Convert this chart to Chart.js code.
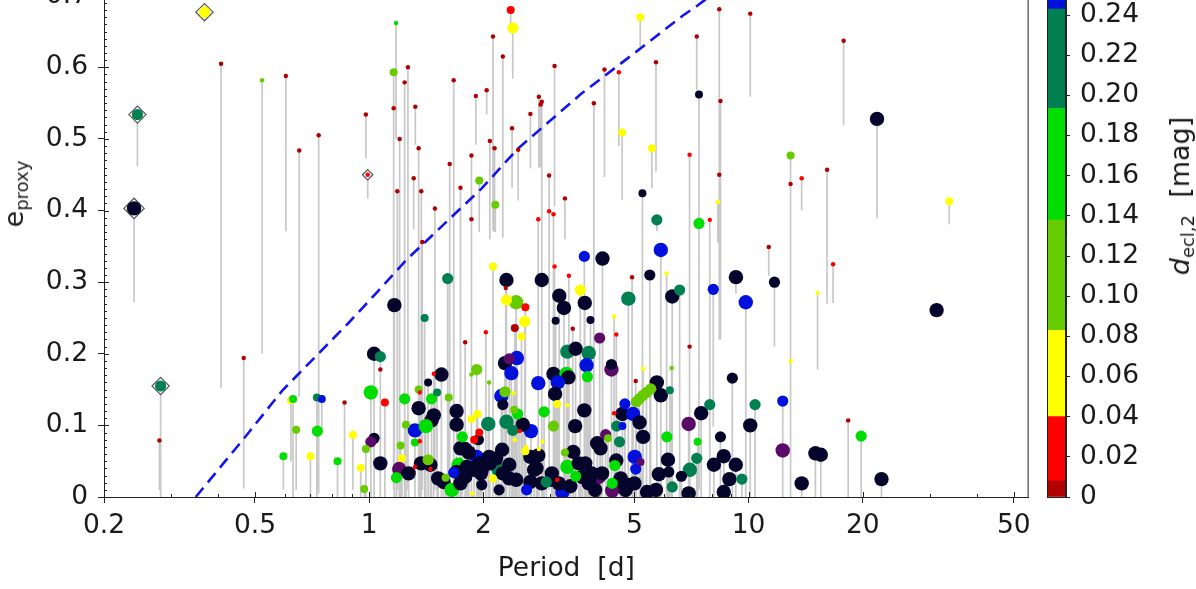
<!DOCTYPE html>
<html>
<head>
<meta charset="utf-8">
<script src="https://cdn.jsdelivr.net/npm/chart.js@4.4.1/dist/chart.umd.min.js"></script>
<style>
  html, body { margin: 0; padding: 0; background: #fff; overflow: hidden; }
  #wrap { position: relative; width: 1196px; height: 589px; overflow: hidden; background: #fff; }
  #main { position: absolute; left: 0; top: -30px; }
  #cbar { position: absolute; left: 1040px; top: -30px; }
  .lab { position: absolute; font-family: 'DejaVu Sans', sans-serif; font-size: 27px; color: #1a1a1a;
         white-space: nowrap; transform: translate(-50%, -50%) rotate(-90deg); }
  .lab sub { font-size: 18px; vertical-align: -5px; }
</style>
</head>
<body>
<div id="wrap">
  <canvas id="main" width="1040" height="619"></canvas>
  <canvas id="cbar" width="156" height="619"></canvas>
  <div class="lab" style="left:15px; top:194px;">e<sub>proxy</sub></div>
  <div class="lab" style="left:1181px; top:196px;"><i>d</i><sub>ecl,2</sub>&nbsp; [mag]</div>
</div>
<script>
// ---- data --------------------------------------------------------------
// orbital period [d]
const period = [
  0.368,0.245,0.240,0.282,0.991,0.280,0.407,0.522,0.603,0.654,
  0.736,0.467,1.177,1.16,1.265,1.240,1.16,1.323,1.203,1.35,
  1.31,1.372,1.186,0.98,1.38,1.49,1.67,1.63,1.74,1.86,
  1.86,1.91,2.04,1.95,2.15,2.12,2.25,2.08,2.14,2.36,
  2.39,2.38,2.47,2.66,2.80,2.85,2.83,2.98,2.79,2.98,
  3.06,3.28,3.08,3.91,4.17,4.55,4.64,5.18,5.56,5.70,
  5.25,5.73,7.4,5.87,6.99,7.3,7.4,3.69,4.12,8.37,
  10.1,17.8,21.8,8.43,8.37,12.9,12.9,13.8,16.1,8.3,
  7.9,11.3,33.8,15.2,16.7,31.3,18.3,19.8,15.0,15.5,
  22.4,13.8,1.165,1.03,1.07,1.01,1.07,1.10,0.622,0.63,
  0.728,0.75,0.861,0.642,0.73,0.906,1.03,1.01,0.594,0.70,
  0.825,0.98,0.95,1.07,1.20,1.18,0.97,1.61,2.12,2.30,
  2.85,3.08,3.36,2.29,2.30,2.44,2.58,2.57,2.52,2.42,
  3.17,3.26,3.10,3.60,3.44,1.40,2.03,1.79,1.55,1.92,
  1.86,2.07,1.48,1.43,1.24,1.36,1.35,1.51,1.46,1.62,
  1.35,1.48,1.46,1.70,1.70,1.86,1.93,2.06,1.32,1.41,
  1.25,1.32,1.36,1.76,1.95,1.89,1.94,1.21,1.74,1.79,
  1.92,1.22,1.43,1.37,1.27,1.32,1.45,1.45,1.72,2.19,
  2.24,2.16,2.08,1.67,1.79,1.89,1.98,1.59,1.57,1.65,
  1.74,1.98,2.12,2.20,1.87,2.30,2.46,2.41,2.23,2.28,
  2.40,2.25,2.28,2.34,2.45,2.37,2.79,3.06,3.31,3.35,
  3.14,3.33,3.50,3.09,3.13,3.33,2.89,3.06,3.49,2.67,
  2.54,2.49,2.39,2.42,2.58,2.59,2.86,2.79,2.80,3.28,
  3.45,3.33,2.76,2.34,2.44,2.66,2.93,3.03,2.60,3.23,
  3.39,3.50,3.13,2.85,5.49,6.08,4.93,9.26,11.7,4.82,
  6.29,6.58,8.07,9.83,3.70,3.83,4.42,4.48,4.05,6.99,
  3.79,3.74,4.35,4.35,3.76,5.27,6.27,5.04,9.06,5.73,
  5.87,6.20,5.06,5.15,5.27,5.38,5.52,4.72,3.69,7.90,
  10.4,12.3,7.50,4.65,4.96,5.16,4.42,6.95,10.1,4.49,
  4.65,5.27,6.09,7.34,8.43,4.20,4.26,4.57,3.99,4.07,
  12.3,7.30,8.60,6.13,5.01,5.19,4.48,4.44,5.04,7.00,
  8.10,9.25,5.80,6.16,6.65,9.60,8.90,6.29,6.95,5.70,
  5.40,8.60,4.83,5.00,4.57,4.37,4.03,4.37,3.71,3.64,
  3.79,3.94,4.11,4.60,4.74,12.9,
  1.70,1.81,1.95,2.07,1.97,2.34,2.66,2.72,3.03,3.16,
  3.57,3.80,3.86,1.52,2.25,1.83
];
// e_proxy (plotted symbol)
const eProxy = [
  0.677,0.534,0.403,0.155,0.450,0.079,0.605,0.582,0.588,0.484,
  0.505,0.194,0.662,0.593,0.600,0.579,0.543,0.545,0.500,0.487,
  0.445,0.427,0.427,0.534,0.356,0.403,0.582,0.465,0.432,0.477,
  0.388,0.560,0.568,0.442,0.408,0.643,0.615,0.497,0.487,0.680,
  0.655,0.515,0.485,0.535,0.559,0.552,0.548,0.449,0.388,0.399,
  0.395,0.417,0.602,0.550,0.597,0.593,0.509,0.670,0.487,0.607,
  0.424,0.387,0.382,0.345,0.478,0.643,0.562,0.336,0.333,0.681,
  0.675,0.637,0.528,0.553,0.450,0.477,0.437,0.445,0.457,0.412,
  0.387,0.349,0.413,0.285,0.325,0.261,0.107,0.085,0.061,0.059,
  0.025,0.019,0.268,0.200,0.196,0.146,0.178,0.132,0.135,0.137,
  0.139,0.137,0.132,0.094,0.092,0.087,0.082,0.077,0.057,0.057,
  0.050,0.067,0.041,0.047,0.039,0.027,0.011,0.305,0.322,0.303,
  0.303,0.322,0.309,0.292,0.275,0.272,0.265,0.245,0.224,0.236,
  0.281,0.264,0.246,0.289,0.235,0.250,0.230,0.216,0.171,0.178,
  0.171,0.160,0.172,0.160,0.137,0.146,0.150,0.146,0.137,0.139,
  0.124,0.114,0.107,0.120,0.101,0.109,0.116,0.102,0.093,0.099,
  0.101,0.076,0.078,0.084,0.090,0.080,0.080,0.072,0.068,0.067,
  0.056,0.054,0.052,0.047,0.033,0.042,0.039,0.045,0.045,0.039,
  0.066,0.054,0.047,0.034,0.028,0.038,0.038,0.027,0.021,0.010,
  0.019,0.017,0.026,0.010,0.005,0.105,0.116,0.122,0.141,0.147,
  0.145,0.129,0.187,0.193,0.194,0.173,0.159,0.172,0.172,0.167,
  0.160,0.203,0.207,0.144,0.130,0.128,0.119,0.099,0.099,0.092,
  0.101,0.092,0.093,0.080,0.064,0.070,0.077,0.058,0.067,0.062,
  0.063,0.042,0.040,0.045,0.024,0.021,0.021,0.024,0.010,0.007,
  0.015,0.029,0.024,0.019,0.310,0.312,0.307,0.307,0.300,0.277,
  0.280,0.289,0.290,0.272,0.271,0.247,0.252,0.227,0.222,0.210,
  0.201,0.184,0.185,0.178,0.168,0.179,0.180,0.162,0.166,0.160,
  0.142,0.149,0.133,0.137,0.142,0.146,0.151,0.130,0.121,0.129,
  0.129,0.134,0.117,0.116,0.116,0.104,0.117,0.102,0.100,0.099,
  0.099,0.084,0.084,0.077,0.084,0.087,0.082,0.077,0.075,0.068,
  0.065,0.054,0.057,0.052,0.056,0.049,0.051,0.044,0.039,0.038,
  0.045,0.045,0.032,0.035,0.029,0.025,0.025,0.014,0.005,0.010,
  0.007,0.007,0.017,0.019,0.019,0.009,0.028,0.019,0.047,0.028,
  0.019,0.010,0.033,0.026,0.010,0.190,
  0.035,0.042,0.047,0.056,0.033,0.026,0.056,0.038,0.033,0.019,
  0.047,0.024,0.033,0.026,0.033,0.062
];
// lower end of the grey range line under each symbol
const eLow = [
  0.677,0.462,0.272,0,0.417,0.01,0.152,0.2,0.371,0.14,
  0.005,0.012,0.5,0.01,0.01,0.01,0.02,0.492,0.01,0.01,
  0.374,0.01,0.01,0.473,0.01,0.01,0.01,0.01,0.01,0.01,
  0.01,0.492,0.534,0.37,0.37,0.371,0.362,0.36,0.37,0.66,
  0.584,0.432,0.414,0.459,0.46,0.3,0.46,0.367,0.01,0.01,
  0.01,0.36,0.406,0.01,0.447,0.49,0.415,0.629,0.431,0.455,
  0.01,0.371,0.01,0.01,0.01,0.568,0.01,0.01,0.01,0.22,
  0.559,0.519,0.389,0.22,0.22,0.01,0.01,0.4,0.27,0.355,
  0.01,0.309,0.381,0.178,0.271,0.261,0,0,0,0,
  0,0,0,0,0,0,0,0,0.05,0,
  0,0.09,0,0.01,0.01,0.01,0,0,0.01,0,
  0,0,0,0,0,0,0,0,0,0,
  0,0,0,0,0,0,0,0,0,0,
  0,0,0,0,0,0,0,0,0,0,
  0,0,0,0,0,0,0,0,0,0,
  0,0,0,0,0,0,0,0,0,0,
  0,0,0,0,0,0,0,0,0,0,
  0,0,0,0,0,0,0,0,0,0,
  0,0,0,0,0,0,0,0,0,0,
  0,0,0,0,0,0,0,0,0,0,
  0,0,0,0,0,0,0,0,0,0,
  0,0,0,0,0,0,0,0,0,0,
  0,0,0,0,0,0,0,0,0,0,
  0,0,0,0,0,0,0,0,0,0,
  0,0,0,0,0,0,0,0.284,0.21,0,
  0,0,0.098,0,0,0,0,0,0,0,
  0,0,0,0,0,0,0,0,0,0,
  0,0,0,0,0,0,0,0,0,0,
  0,0,0,0,0,0,0,0,0,0,
  0,0,0,0,0,0,0,0,0,0,
  0,0,0,0,0,0,0,0,0,0,
  0,0,0,0,0,0,0,0,0,0,
  0,0,0,0,0,0,0,0,0,0,
  0,0,0,0,0,0,
  0,0,0,0,0,0,0,0,0,0,
  0,0,0,0,0,0
];
// secondary eclipse depth d_ecl,2 [mag] (colour)
const depth2 = [
  .06,.22,.4,.22,.025,.004,.004,.11,.004,.004,
  .004,.004,.165,.11,.004,.004,.004,.004,.004,.004,
  .004,.004,.004,.004,.004,.004,.004,.004,.004,.004,
  .004,.004,.004,.11,.11,.004,.004,.004,.004,.025,
  .06,.004,.004,.004,.004,.004,.004,.004,.025,.025,
  .025,.004,.004,.004,.004,.025,.06,.06,.06,.004,
  .4,.22,.165,.25,.025,.004,.4,.25,.4,.004,
  .004,.004,.4,.004,.004,.11,.004,.025,.004,.06,
  .025,.004,.06,.06,.025,.4,.004,.165,.4,.4,
  .4,.4,.4,.4,.22,.165,.004,.025,.06,.165,
  .22,.25,.004,.11,.165,.06,.4,.3,.165,.06,
  .165,.11,.06,.4,.3,.165,.11,.22,.06,.4,
  .4,.025,.025,.004,.06,.11,.025,.06,.06,.004,
  .4,.4,.4,.06,.004,.22,.025,.004,.4,.11,
  .11,.11,.025,.4,.165,.025,.11,.22,.165,.11,
  .4,.4,.4,.4,.4,.06,.06,.22,.25,.165,
  .11,.165,.025,.165,.025,.025,.4,.11,.4,.4,
  .25,.06,.11,.4,.4,.025,.025,.4,.165,.22,
  .4,.4,.4,.25,.4,.4,.4,.11,.4,.165,
  .4,.4,.06,.4,.06,.22,.165,.11,.25,.11,
  .06,.4,.4,.3,.25,.25,.25,.4,.165,.4,
  .25,.22,.4,.4,.06,.06,.165,.11,.4,.25,
  .4,.025,.22,.06,.06,.06,.06,.4,.06,.11,
  .4,.165,.4,.4,.4,.4,.22,.4,.25,.25,
  .4,.165,.025,.4,.4,.06,.004,.4,.4,.22,
  .4,.22,.25,.25,.4,.4,.06,.025,.3,.004,
  .22,.25,.4,.3,.165,.06,.11,.004,.4,.4,
  .4,.22,.11,.11,.11,.11,.11,.25,.4,.22,
  .22,.25,.4,.4,.25,.4,.025,.3,.4,.22,
  .25,.4,.165,.165,.4,.3,.11,.22,.4,.4,
  .3,.22,.4,.4,.25,.3,.4,.165,.25,.22,
  .4,.4,.4,.4,.4,.22,.4,.22,.4,.4,
  .4,.4,.4,.4,.4,.3,.3,.165,.4,.4,
  .4,.4,.4,.4,.4,.06,
  .4,.4,.4,.4,.4,.4,.4,.4,.4,.4,
  .4,.4,.4,.4,.4,.4
];
// primary eclipse depth [mag] (symbol size)
const depth1 = [
  .25,.25,.35,.25,.04,.04,.04,.04,.04,.04,
  .04,.04,.04,.15,.04,.04,.04,.04,.04,.04,
  .04,.04,.04,.04,.04,.04,.04,.04,.04,.04,
  .04,.04,.04,.15,.15,.04,.04,.04,.04,.15,
  .25,.04,.04,.04,.04,.04,.04,.04,.04,.04,
  .04,.04,.04,.04,.04,.04,.15,.15,.15,.04,
  .15,.25,.25,.35,.04,.04,.15,.25,.35,.04,
  .04,.04,.35,.04,.04,.15,.04,.04,.04,.04,
  .04,.04,.15,.04,.04,.35,.04,.25,.35,.35,
  .35,.35,.35,.35,.25,.35,.04,.15,.15,.15,
  .15,.15,.04,.15,.25,.15,.25,.25,.15,.15,
  .15,.15,.15,.35,.35,.25,.15,.25,.15,.35,
  .35,.04,.04,.04,.25,.35,.15,.25,.15,.15,
  .35,.35,.15,.25,.04,.15,.04,.04,.35,.25,
  .04,.04,.04,.15,.25,.04,.15,.15,.25,.15,
  .35,.35,.35,.35,.35,.15,.15,.35,.35,.35,
  .15,.15,.04,.25,.15,.15,.25,.15,.35,.35,
  .35,.15,.25,.35,.35,.04,.04,.35,.35,.35,
  .35,.35,.35,.25,.35,.35,.35,.15,.35,.35,
  .35,.25,.15,.25,.04,.35,.25,.15,.35,.25,
  .04,.25,.35,.25,.35,.35,.35,.35,.35,.35,
  .35,.35,.35,.35,.15,.04,.25,.25,.35,.35,
  .35,.04,.25,.04,.15,.04,.04,.35,.04,.15,
  .35,.35,.35,.35,.35,.35,.25,.35,.25,.35,
  .35,.25,.04,.35,.25,.04,.04,.35,.25,.35,
  .35,.25,.25,.35,.35,.15,.04,.04,.25,.04,
  .35,.35,.25,.35,.25,.04,.04,.04,.25,.35,
  .35,.15,.25,.25,.25,.25,.25,.25,.35,.25,
  .25,.25,.35,.35,.35,.35,.04,.35,.35,.25,
  .15,.35,.25,.15,.25,.25,.15,.25,.35,.35,
  .35,.25,.35,.35,.35,.15,.35,.25,.25,.35,
  .35,.35,.35,.25,.25,.25,.35,.25,.35,.35,
  .35,.35,.35,.35,.35,.35,.35,.25,.35,.35,
  .35,.35,.35,.35,.35,.04,
  .35,.35,.35,.35,.35,.35,.35,.35,.35,.35,
  .35,.35,.35,.35,.35,.35
];
// systems marked with a diamond
const diamondIdx = [0, 1, 2, 3, 4];

// dashed envelope
const curveP = [0.349, 0.468, 0.591, 0.882, 1.057, 1.258, 1.98, 2.46, 3.62, 5.09, 6.7, 7.32, 7.8];
const curveE = [0.0, 0.082, 0.149, 0.243, 0.288, 0.332, 0.431, 0.486, 0.563, 0.623, 0.672, 0.686, 0.697];

// axes
const xTickLabels = [0.2, 0.5, 1, 2, 5, 10, 20, 50];
const yTickLabels = [0, 0.1, 0.2, 0.3, 0.4, 0.5, 0.6, 0.7];
const cbTicks = [0, 0.02, 0.04, 0.06, 0.08, 0.10, 0.12, 0.14, 0.16, 0.18, 0.20, 0.22, 0.24];

// colour scale
const binEdges = [0, 0.008, 0.04, 0.083, 0.138, 0.1935, 0.243, 0.27, 0.33, 1];
const binColors = ['#b00000', '#ff0000', '#ffff00', '#66cc00', '#00dd00', '#008050', '#0010dd', '#5c0a6a', '#05052c'];
const cbMax = 0.258;

//----------------------------------------------------------------------------
const FONT = { family: "'DejaVu Sans', sans-serif", size: 26.5 };
const TXT = '#1a1a1a';
const X_MIN = 0.2, X_MAX = 54.7, Y_MAX = 0.72;

function colourOf(d) {
  for (let i = 0; i < binColors.length; i++) {
    if (d < binEdges[i + 1]) return binColors[i];
  }
  return binColors[binColors.length - 1];
}
function radiusOf(d) { return 1.6 + 16 * d; }

// log ticks 1..9 x 10^k inside the range
var xTickAll = [];
for (var k = -1; k <= 1; k++) {
  for (var m = 1; m <= 9; m++) {
    var v = Number((m * Math.pow(10, k)).toPrecision(6));
    if (v >= X_MIN && v <= X_MAX) xTickAll.push(v);
  }
}

// big symbols first so the small ones stay visible
var order = period.map(function (_, i) { return i; })
  .sort(function (a, b) { return depth1[b] - depth1[a]; });

var rangeLines = [];
for (var i = 0; i < period.length; i++) {
  if (eLow[i] < eProxy[i]) {
    rangeLines.push({ x: period[i], y: eProxy[i] });
    rangeLines.push({ x: period[i], y: eLow[i] });
    rangeLines.push({ x: period[i], y: null });
  }
}

const axisDecor = {
  id: 'axisDecor',
  afterDraw: function (chart) {
    var ctx = chart.ctx, a = chart.chartArea, x = chart.scales.x, y = chart.scales.y;
    ctx.save();
    ctx.strokeStyle = '#222';
    ctx.lineWidth = 1;
    ctx.strokeRect(a.left + 0.5, a.top + 0.5, a.right - a.left - 1, a.bottom - a.top);
    ctx.beginPath();
    xTickAll.forEach(function (t) {
      var px = Math.round(x.getPixelForValue(t)) + 0.5;
      var len = xTickLabels.indexOf(t) >= 0 ? 5 : 3;
      ctx.moveTo(px, a.bottom); ctx.lineTo(px, a.bottom - len);
    });
    for (var n = 0; n <= 72; n++) {
      var py = Math.round(y.getPixelForValue(n / 100)) + 0.5;
      if (py < a.top) continue;
      var len2 = n % 10 === 0 ? 5 : 3;
      ctx.moveTo(a.left, py); ctx.lineTo(a.left + len2, py);
    }
    ctx.stroke();
    ctx.restore();
  }
};

const frame = {
  id: 'frame',
  afterDraw: function (chart) {
    var ctx = chart.ctx, a = chart.chartArea;
    ctx.save();
    ctx.strokeStyle = '#222';
    ctx.lineWidth = 1;
    ctx.strokeRect(a.left + 0.5, a.top + 0.5, a.right - a.left - 1, a.bottom - a.top);
    ctx.restore();
  }
};

new Chart(document.getElementById('main'), {
  type: 'scatter',
  data: {
    datasets: [
      {
        label: 'systems',
        data: order.map(function (i) { return { x: period[i], y: eProxy[i] }; }),
        pointRadius: order.map(function (i) { return radiusOf(depth1[i]); }),
        pointBackgroundColor: order.map(function (i) { return colourOf(depth2[i]); }),
        backgroundColor: order.map(function (i) { return colourOf(depth2[i]); }),
        pointBorderWidth: 0,
        borderWidth: 0,
        order: 1
      },
      {
        label: 'flagged',
        data: diamondIdx.map(function (i) { return { x: period[i], y: eProxy[i] }; }),
        pointStyle: 'rectRot',
        pointRadius: diamondIdx.map(function (i) { return radiusOf(depth1[i]) + 3; }),
        pointBackgroundColor: '#ffffff',
        pointBorderColor: '#555555',
        pointBorderWidth: 1.2,
        order: 2
      },
      {
        type: 'line',
        label: 'envelope',
        data: curveP.map(function (p, j) { return { x: p, y: curveE[j] }; }),
        borderColor: '#1414ee',
        borderWidth: 2.6,
        borderDash: [12, 7],
        pointRadius: 0,
        fill: false,
        tension: 0,
        order: 3
      },
      {
        type: 'line',
        label: 'range',
        data: rangeLines,
        borderColor: '#c8c8c8',
        borderWidth: 1.7,
        pointRadius: 0,
        spanGaps: false,
        fill: false,
        tension: 0,
        order: 4
      }
    ]
  },
  options: {
    responsive: false,
    devicePixelRatio: 1,
    animation: false,
    events: [],
    layout: { padding: { top: 9, right: 8, left: 0, bottom: 0 } },
    plugins: { legend: { display: false }, tooltip: { enabled: false } },
    scales: {
      x: {
        type: 'logarithmic',
        min: X_MIN,
        max: X_MAX,
        afterBuildTicks: function (s) { s.ticks = xTickAll.map(function (v) { return { value: v }; }); },
        afterFit: function (s) { s.height = 92; s.paddingLeft = 0; s.paddingRight = 0; },
        ticks: {
          autoSkip: false, maxRotation: 0, minRotation: 0, padding: 7,
          color: TXT, font: FONT,
          callback: function (v) { return xTickLabels.indexOf(v) >= 0 ? String(v) : ''; }
        },
        grid: {
          drawOnChartArea: false, tickLength: 6, tickWidth: 1,
          tickColor: function (c) {
            return (c.tick && xTickLabels.indexOf(c.tick.value) >= 0) ? '#222' : 'rgba(0,0,0,0)';
          }
        },
        border: { display: true, color: '#222', width: 1 },
        title: { display: true, text: 'Period  [d]', color: TXT, font: FONT, padding: { top: 0, bottom: 4 } }
      },
      y: {
        type: 'linear',
        min: 0,
        max: Y_MAX,
        afterBuildTicks: function (s) { s.ticks = yTickLabels.map(function (v) { return { value: v }; }); },
        afterFit: function (s) { s.width = 104; s.paddingTop = 0; s.paddingBottom = 0; },
        ticks: {
          padding: 10, color: TXT, font: FONT,
          callback: function (v) { return v === 0 ? '0' : v.toFixed(1); }
        },
        grid: { drawOnChartArea: false, tickLength: 6, tickColor: '#222' },
        border: { display: true, color: '#222', width: 1 }
      }
    }
  },
  plugins: [axisDecor]
});

// colour bar
new Chart(document.getElementById('cbar'), {
  type: 'bar',
  data: {
    labels: [''],
    datasets: binColors.slice(0, 7).map(function (c, j) {
      return {
        data: [[binEdges[j], Math.min(binEdges[j + 1], cbMax)]],
        backgroundColor: c,
        borderWidth: 0,
        barPercentage: 1,
        categoryPercentage: 1,
        grouped: false
      };
    })
  },
  options: {
    responsive: false,
    devicePixelRatio: 1,
    animation: false,
    events: [],
    layout: { padding: { left: 7, top: 9, bottom: 92, right: 0 } },
    plugins: { legend: { display: false }, tooltip: { enabled: false } },
    scales: {
      x: { display: false },
      y: {
        position: 'right',
        min: 0,
        max: cbMax,
        afterBuildTicks: function (s) { s.ticks = cbTicks.map(function (v) { return { value: v }; }); },
        afterFit: function (s) { s.width = 130; s.paddingTop = 0; s.paddingBottom = 0; },
        ticks: {
          padding: 10, color: TXT, font: FONT,
          callback: function (v) { return v === 0 ? '0' : v.toFixed(2); }
        },
        grid: { drawOnChartArea: false, tickLength: 4, tickColor: '#222' },
        border: { display: true, color: '#222', width: 1 }
      }
    }
  },
  plugins: [frame]
});
</script>
</body>
</html>
